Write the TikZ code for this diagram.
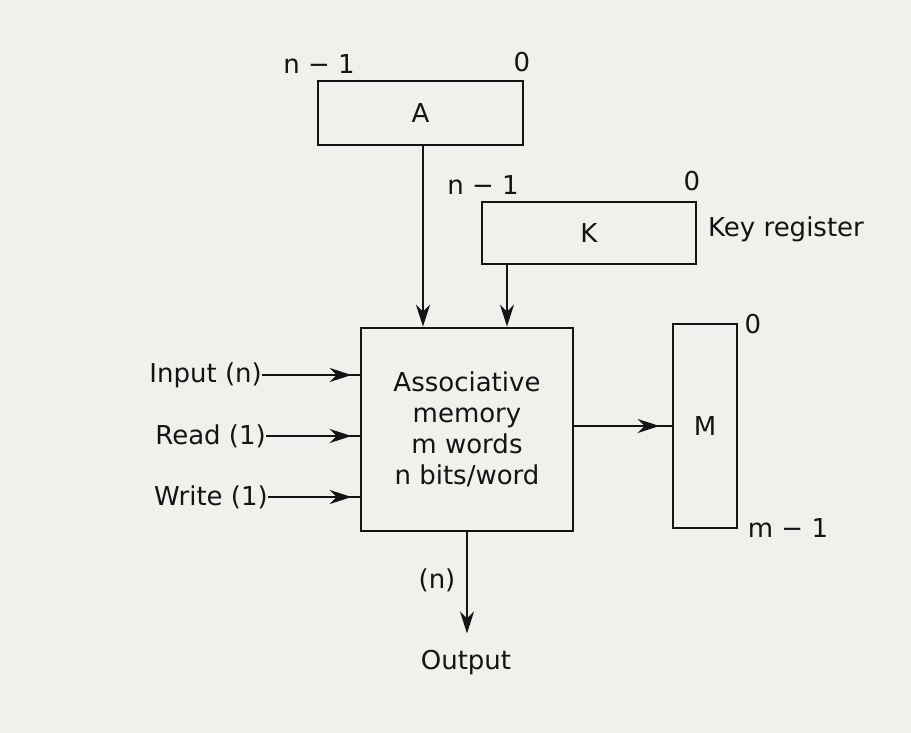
\documentclass[tikz,border=0pt]{standalone}
\usepackage{fontspec}
\setmainfont{DejaVu Sans}
\usetikzlibrary{arrows.meta}
\definecolor{ink}{RGB}{20,20,20}
\definecolor{paper}{RGB}{240,240,236}
\begin{document}
\begin{tikzpicture}[x=1pt,y=-1pt,
  box/.style={draw=ink, line width=2.8pt, inner sep=0pt, text=ink,
    font=\fontsize{26}{31}\selectfont},
  lbl/.style={text=ink, font=\fontsize{26}{31}\selectfont, inner sep=0pt},
  conn/.style={draw=ink, line width=2.6pt},
  tip/.style={-{Stealth[length=22pt,width=14pt,inset=7pt]}}]
\fill[paper] (0,0) rectangle (911,733);
\useasboundingbox (0,0) rectangle (911,733);
% registers
\node[box, minimum width=205pt, minimum height=64pt] (A) at (420.5,113) {A};
\node[box, minimum width=214pt, minimum height=62pt] (K) at (589,233) {K};
\node[box, minimum width=212pt, minimum height=203pt, align=center] (main) at (467,429.5)
  {Associative\\memory\\m words\\n bits/word};
\node[box, minimum width=64pt, minimum height=204pt] (M) at (705,426) {M};
% labels
\node[lbl] (an) at (319,64) {n − 1};
\node[lbl] (a0) at (522,62) {0};
\node[lbl] (kn) at (483,185) {n − 1};
\node[lbl] (k0) at (692,181) {0};
\node[lbl, anchor=west] (kr) at (708,229) {Key register};
\node[lbl] (m0) at (753,324) {0};
\node[lbl] (mm) at (788,528) {m − 1};
\node[lbl, anchor=east] (in) at (262,375) {Input (n)};
\node[lbl, anchor=east] (rd) at (266,436) {Read (1)};
\node[lbl, anchor=east] (wr) at (268,497) {Write (1)};
\node[lbl] (nn) at (437,580) {(n)};
\node[lbl] (out) at (466,663) {Output};
% connectors
\draw[conn,tip] ([xshift=2.5pt]A.south) -- ([xshift=2.5pt]A.south |- main.north);
\draw[conn,tip] ([xshift=-82pt]K.south) -- ([xshift=-82pt]K.south |- main.north);
\foreach \s in {in,rd,wr}{
  \draw[conn] (\s.east) -- (main.west |- \s.east);
  \draw[conn,tip,shorten >=8pt] (\s.east) -- (main.west |- \s.east);
}
\draw[conn,tip,shorten >=12pt] (main.east |- M.west) -- (M.west);
\draw[conn,shorten >=0pt] (main.east |- M.west) -- (M.west);
\draw[conn,tip,shorten >=17pt] (main.south) -- (main.south |- out.north);
\end{tikzpicture}
\end{document}
